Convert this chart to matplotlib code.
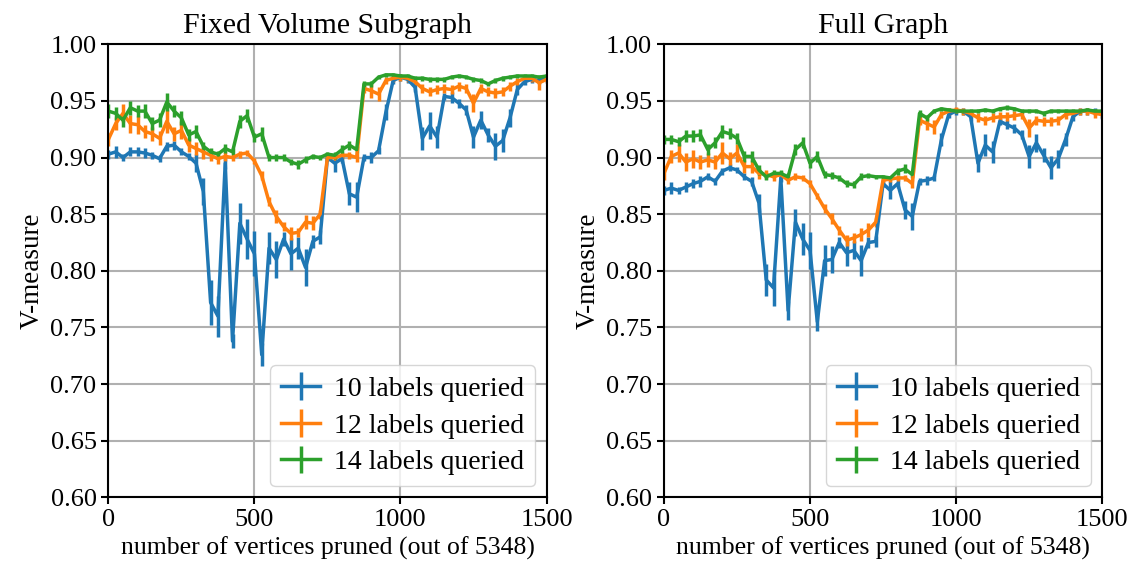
import numpy as np
import matplotlib.pyplot as plt

plt.rcParams['font.family'] = ['Liberation Serif', 'DejaVu Serif']
plt.rcParams['font.size'] = 20

# vertices pruned, every 25 up to 1500
n_pruned = np.arange(0, 1501, 25)

labels = ['10 labels queried', '12 labels queried', '14 labels queried']
colors = ['#1f77b4', '#ff7f0e', '#2ca02c']

# ---- Fixed Volume Subgraph ----
sub_10 = [0.903, 0.905, 0.900, 0.905, 0.905, 0.904, 0.902, 0.899, 0.910, 0.911,
          0.905, 0.901, 0.895, 0.870, 0.772, 0.760, 0.895, 0.738, 0.842, 0.828,
          0.815, 0.726, 0.820, 0.810, 0.828, 0.815, 0.820, 0.803, 0.826, 0.830,
          0.900, 0.895, 0.899, 0.868, 0.865, 0.900, 0.900, 0.906, 0.940, 0.968,
          0.971, 0.969, 0.962, 0.917, 0.928, 0.918, 0.954, 0.953, 0.948, 0.942,
          0.918, 0.933, 0.920, 0.910, 0.915, 0.935, 0.960, 0.967, 0.969, 0.968, 0.970]
sub_12 = [0.916, 0.930, 0.939, 0.930, 0.929, 0.923, 0.921, 0.917, 0.932, 0.921,
          0.924, 0.911, 0.908, 0.905, 0.902, 0.899, 0.901, 0.900, 0.903, 0.904,
          0.897, 0.884, 0.861, 0.848, 0.839, 0.833, 0.834, 0.843, 0.842, 0.850,
          0.900, 0.900, 0.902, 0.902, 0.900, 0.961, 0.959, 0.956, 0.968, 0.970,
          0.971, 0.970, 0.967, 0.961, 0.958, 0.960, 0.961, 0.960, 0.963, 0.961,
          0.948, 0.961, 0.958, 0.957, 0.958, 0.963, 0.967, 0.970, 0.970, 0.966, 0.969]
sub_14 = [0.941, 0.939, 0.933, 0.944, 0.941, 0.941, 0.930, 0.933, 0.949, 0.941,
          0.935, 0.920, 0.923, 0.910, 0.905, 0.903, 0.908, 0.905, 0.932, 0.937,
          0.918, 0.921, 0.900, 0.900, 0.900, 0.896, 0.894, 0.898, 0.901, 0.900,
          0.903, 0.902, 0.907, 0.911, 0.907, 0.965, 0.965, 0.971, 0.973, 0.973,
          0.972, 0.972, 0.970, 0.970, 0.969, 0.969, 0.969, 0.971, 0.972, 0.971,
          0.969, 0.968, 0.965, 0.968, 0.970, 0.971, 0.972, 0.972, 0.972, 0.971, 0.972]

sub_10_err = [0.004, 0.005, 0.003, 0.004, 0.004, 0.004, 0.003, 0.003, 0.004, 0.004,
              0.003, 0.003, 0.008, 0.012, 0.020, 0.018, 0.005, 0.006, 0.018, 0.018,
              0.020, 0.010, 0.014, 0.016, 0.006, 0.014, 0.010, 0.016, 0.006, 0.006,
              0.003, 0.008, 0.004, 0.010, 0.013, 0.003, 0.005, 0.003, 0.007, 0.003,
              0.003, 0.003, 0.004, 0.010, 0.012, 0.010, 0.003, 0.005, 0.004, 0.004,
              0.010, 0.008, 0.006, 0.012, 0.010, 0.008, 0.005, 0.003, 0.003, 0.003, 0.004]
sub_12_err = [0.006, 0.006, 0.008, 0.008, 0.008, 0.006, 0.006, 0.006, 0.010, 0.006,
              0.008, 0.006, 0.006, 0.006, 0.005, 0.005, 0.004, 0.003, 0.003, 0.003,
              0.003, 0.004, 0.004, 0.006, 0.004, 0.006, 0.004, 0.006, 0.006, 0.004,
              0.003, 0.003, 0.003, 0.003, 0.004, 0.004, 0.006, 0.006, 0.003, 0.003,
              0.003, 0.003, 0.003, 0.004, 0.004, 0.004, 0.004, 0.004, 0.004, 0.004,
              0.008, 0.004, 0.004, 0.004, 0.004, 0.004, 0.003, 0.003, 0.003, 0.006, 0.003]
sub_14_err = [0.006, 0.006, 0.006, 0.006, 0.005, 0.006, 0.006, 0.006, 0.008, 0.005,
              0.006, 0.005, 0.006, 0.004, 0.003, 0.003, 0.004, 0.003, 0.006, 0.006,
              0.004, 0.006, 0.003, 0.003, 0.003, 0.003, 0.004, 0.003, 0.002, 0.002,
              0.002, 0.003, 0.004, 0.004, 0.003, 0.003, 0.003, 0.002, 0.002, 0.002,
              0.002, 0.002, 0.002, 0.002, 0.002, 0.002, 0.002, 0.002, 0.002, 0.002,
              0.002, 0.002, 0.002, 0.002, 0.002, 0.002, 0.002, 0.002, 0.002, 0.002, 0.002]

# ---- Full Graph ----
full_10 = [0.871, 0.873, 0.871, 0.874, 0.877, 0.879, 0.883, 0.879, 0.888, 0.891,
           0.889, 0.883, 0.879, 0.860, 0.792, 0.785, 0.882, 0.765, 0.843, 0.828,
           0.818, 0.755, 0.809, 0.810, 0.825, 0.816, 0.818, 0.809, 0.825, 0.826,
           0.877, 0.871, 0.877, 0.854, 0.848, 0.879, 0.880, 0.882, 0.916, 0.938,
           0.941, 0.941, 0.936, 0.895, 0.911, 0.905, 0.932, 0.929, 0.926, 0.920,
           0.901, 0.913, 0.902, 0.891, 0.899, 0.916, 0.936, 0.941, 0.941, 0.941, 0.938]
full_12 = [0.886, 0.901, 0.904, 0.896, 0.899, 0.896, 0.898, 0.896, 0.904, 0.899,
           0.904, 0.892, 0.892, 0.886, 0.885, 0.883, 0.885, 0.880, 0.883, 0.882,
           0.877, 0.866, 0.855, 0.846, 0.836, 0.827, 0.829, 0.832, 0.836, 0.843,
           0.880, 0.881, 0.882, 0.882, 0.877, 0.933, 0.930, 0.927, 0.938, 0.941,
           0.942, 0.941, 0.939, 0.935, 0.933, 0.935, 0.936, 0.936, 0.937, 0.938,
           0.926, 0.933, 0.932, 0.932, 0.933, 0.938, 0.939, 0.941, 0.941, 0.939, 0.938]
full_14 = [0.916, 0.916, 0.914, 0.919, 0.919, 0.920, 0.907, 0.913, 0.923, 0.921,
           0.917, 0.901, 0.901, 0.889, 0.883, 0.886, 0.886, 0.883, 0.907, 0.913,
           0.895, 0.901, 0.885, 0.884, 0.882, 0.877, 0.876, 0.883, 0.884, 0.883,
           0.883, 0.882, 0.888, 0.890, 0.885, 0.939, 0.935, 0.941, 0.943, 0.942,
           0.941, 0.941, 0.941, 0.941, 0.942, 0.941, 0.943, 0.944, 0.943, 0.941,
           0.941, 0.941, 0.939, 0.941, 0.941, 0.941, 0.941, 0.941, 0.942, 0.941, 0.941]

full_10_err = [0.004, 0.005, 0.003, 0.004, 0.004, 0.005, 0.003, 0.003, 0.003, 0.003,
               0.003, 0.003, 0.004, 0.008, 0.014, 0.016, 0.004, 0.008, 0.012, 0.014,
               0.016, 0.008, 0.014, 0.012, 0.005, 0.012, 0.008, 0.014, 0.005, 0.005,
               0.003, 0.008, 0.004, 0.008, 0.012, 0.003, 0.004, 0.003, 0.006, 0.003,
               0.003, 0.003, 0.004, 0.008, 0.010, 0.010, 0.003, 0.004, 0.004, 0.004,
               0.010, 0.008, 0.006, 0.010, 0.008, 0.006, 0.004, 0.003, 0.003, 0.003, 0.004]
full_12_err = [0.006, 0.006, 0.008, 0.008, 0.008, 0.006, 0.006, 0.006, 0.010, 0.006,
               0.008, 0.006, 0.006, 0.005, 0.004, 0.004, 0.003, 0.003, 0.003, 0.003,
               0.003, 0.003, 0.004, 0.005, 0.004, 0.005, 0.004, 0.006, 0.006, 0.004,
               0.003, 0.003, 0.003, 0.003, 0.004, 0.004, 0.006, 0.006, 0.003, 0.003,
               0.003, 0.003, 0.003, 0.004, 0.004, 0.004, 0.004, 0.004, 0.004, 0.004,
               0.008, 0.004, 0.004, 0.004, 0.004, 0.004, 0.003, 0.003, 0.003, 0.004, 0.003]
full_14_err = [0.004, 0.004, 0.004, 0.005, 0.005, 0.005, 0.005, 0.005, 0.006, 0.005,
               0.005, 0.005, 0.005, 0.004, 0.003, 0.003, 0.003, 0.003, 0.005, 0.005,
               0.004, 0.005, 0.003, 0.003, 0.003, 0.003, 0.003, 0.003, 0.002, 0.002,
               0.002, 0.002, 0.003, 0.004, 0.003, 0.003, 0.003, 0.002, 0.002, 0.002,
               0.002, 0.002, 0.002, 0.002, 0.002, 0.002, 0.002, 0.002, 0.002, 0.002,
               0.002, 0.002, 0.002, 0.002, 0.002, 0.002, 0.002, 0.002, 0.002, 0.002, 0.002]

panels = [
    ('Fixed Volume Subgraph', [sub_10, sub_12, sub_14], [sub_10_err, sub_12_err, sub_14_err]),
    ('Full Graph', [full_10, full_12, full_14], [full_10_err, full_12_err, full_14_err]),
]

fig = plt.figure(figsize=(11.35, 5.75), dpi=100)
ax_pos = [[0.0955, 0.135, 0.386, 0.788], [0.585, 0.135, 0.386, 0.788]]

for pos, (title, series, errs) in zip(ax_pos, panels):
    ax = fig.add_axes(pos)
    for vals, err, lab, c in zip(series, errs, labels, colors):
        ax.errorbar(n_pruned, vals, yerr=err, color=c, lw=2.5, elinewidth=2.5,
                    capsize=0, label=lab)
    ax.set_xlim(0, 1500)
    ax.set_ylim(0.6, 1.0)
    ax.set_xticks([0, 500, 1000, 1500])
    ax.set_yticks(np.arange(0.6, 1.001, 0.05))
    ax.set_yticklabels([f'{t:.2f}' for t in np.arange(0.6, 1.001, 0.05)])
    ax.grid(True, color='#b0b0b0', lw=1.5)
    ax.set_axisbelow(True)
    for sp in ax.spines.values():
        sp.set_linewidth(1.5)
    ax.tick_params(width=1.5, length=5, labelsize=19)
    ax.set_title(title, fontsize=21.5, pad=8)
    ax.set_xlabel('number of vertices pruned (out of 5348)', fontsize=18.5)
    ax.set_ylabel('V-measure', fontsize=19.5)
    ax.legend(loc='lower right', fontsize=20, borderaxespad=0.4,
              handlelength=1.4, handletextpad=0.5, labelspacing=0.4)

fig.savefig('out.png', dpi=100)
